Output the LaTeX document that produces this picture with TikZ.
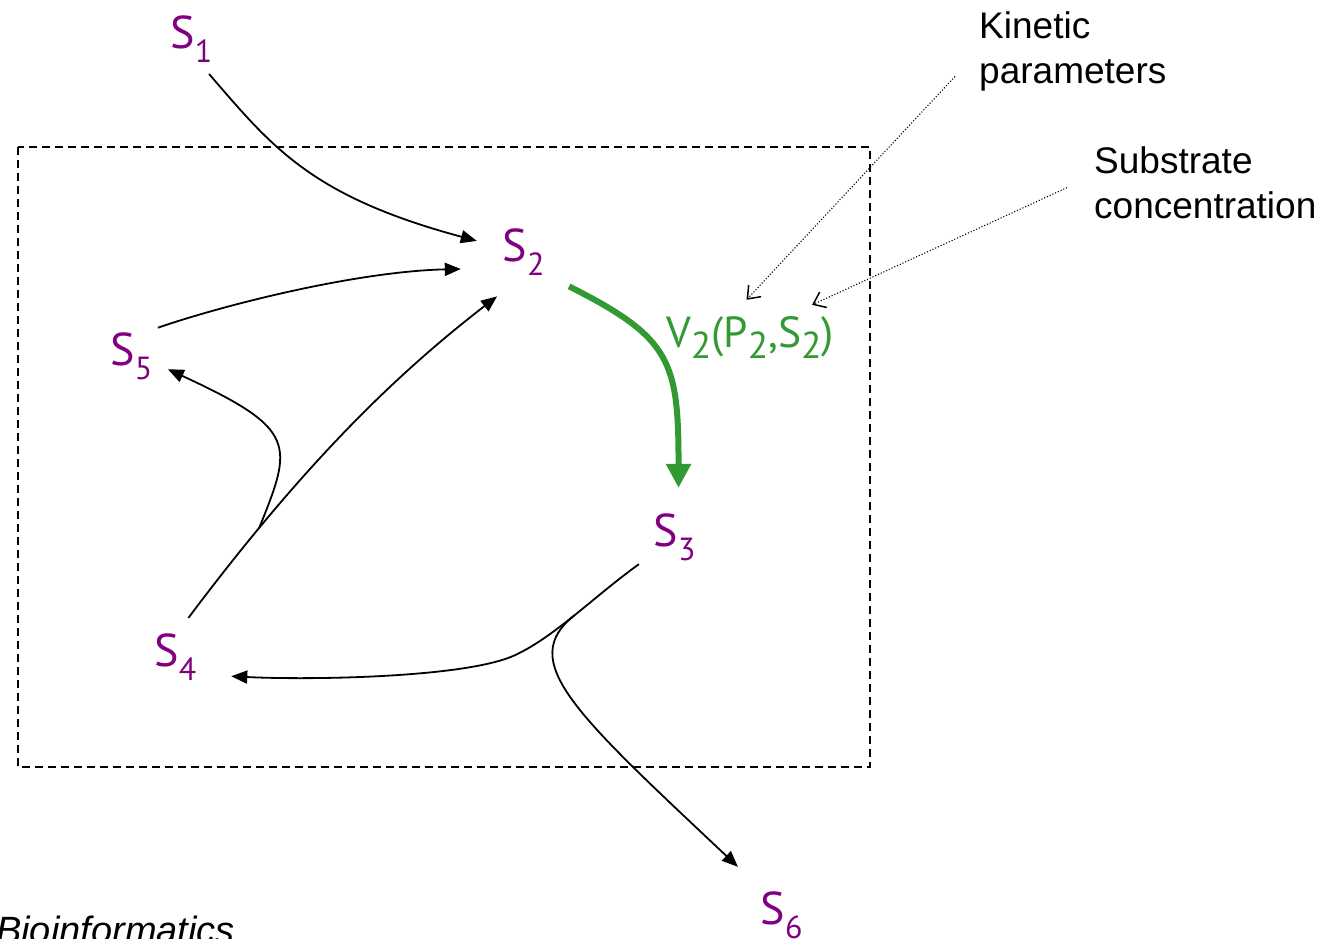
\documentclass[tikz,border=0pt]{standalone}
\usepackage{fontspec}
\setmainfont{Liberation Sans}
\newfontfamily\ptsans{PT Sans}
\usepackage{xcolor}
\usepackage{tikz}
\usetikzlibrary{arrows.meta, calc}
\definecolor{metpurple}{HTML}{800080}
\definecolor{fluxgreen}{HTML}{339933}

\newcommand{\met}[1]{S\raisebox{-14pt}{\fontsize{32}{32}\selectfont #1}}
\newcommand{\ratesub}[1]{\raisebox{-11pt}{\fontsize{37.5}{37.5}\selectfont #1}}

\begin{document}
\begin{tikzpicture}[x=1pt, y=-1pt,
    species/.style={circle, minimum size=77pt, inner sep=0pt, text=metpurple,
                    font=\ptsans\fontsize{46}{50}\selectfont},
    note/.style={anchor=north west, align=left, inner ysep=0pt,
                 font=\fontsize{37}{45}\selectfont},
    flow/.style={line width=1.8pt, -{Triangle[length=16pt,width=13pt]}},
    hint/.style={line width=1.1pt, dash pattern=on 1.1pt off 1.9pt,
                 -{Straight Barb[length=11pt,width=17pt,line width=1.5pt]}}]
  \useasboundingbox (0,0) rectangle (1327,939);
  % the compartment
  \draw[line width=1.5pt, dash pattern=on 8pt off 5pt] (18,147) rectangle (870,767);

  % metabolites
  \node[species] (s1) at (191.5,39.5) {\met{1}};
  \node[species] (s2) at (523.5,252) {\met{2}};
  \node[species] (s3) at (674.5,537.5) {\met{3}};
  \node[species] (s4) at (175.5,657) {\met{4}};
  \node[species] (s5) at (131.5,356) {\met{5}};
  \node[species] (s6) at (781.5,915) {\met{6}};

  \node[anchor=base west, inner sep=0pt, text=fluxgreen,
        font=\ptsans\fontsize{43.5}{45}\selectfont] (v2) at (666,347)
        {V\ratesub{2}(P\ratesub{2},S\ratesub{2})};
  \node[note, inner xsep=24pt] (kin) at (955,11.5) {Kinetic\\parameters};
  \node[note, inner xsep=27pt] (sub) at (1067,146.5) {Substrate\\concentration};
  \node[anchor=base west, inner sep=0pt, font=\itshape\fontsize{38}{40}\selectfont]
        (src) at (-4,943.5) {Bioinformatics};

  % reactions
  \draw[flow, shorten >=9.3pt] (s1.-63) .. controls +(63,73) and +(-175,-47) .. (s2.167);
  \draw[flow, shorten >=27.6pt] (s5.47.6) .. controls +(70,-24) and +(-130,3) .. (s2.-155);
  \draw[flow, shorten <=2.6pt, shorten >=14.3pt] (s4.73.5)
        .. controls +(120,-160) and +(-110,85) .. (s2.-113) coordinate[pos=0.21] (j1);
  \draw[flow] (j1) .. controls +(34,-84) and +(130,60) .. (s5.-20);
  \draw[flow, shorten <=5.8pt, shorten >=21.6pt] (s3.-143)
        .. controls +(-50,36) and +(40,-18) .. ++(-130,95) coordinate[pos=0.5] (j2)
        .. controls +(-50,22) and +(100,5) .. (s4.-28.1);
  \draw[flow, shorten >=26.4pt] (j2) .. controls +(-59,46) and +(-182,-171.5) .. (s6.129.1);
  \draw[line width=6pt, fluxgreen, shorten <=18.9pt, shorten >=11.2pt,
        -{Triangle[length=24pt,width=24pt]}]
        (s2.-42.3) .. controls +(119,60) and +(0,-138) .. (s3.84.8);

  % what the rate depends on
  \draw[hint, shorten >=21.9pt] (kin.192.9) -- (v2.131);
  \draw[hint, shorten >=26.3pt] (sub.182.4) -- (v2.29);
\end{tikzpicture}
\end{document}
